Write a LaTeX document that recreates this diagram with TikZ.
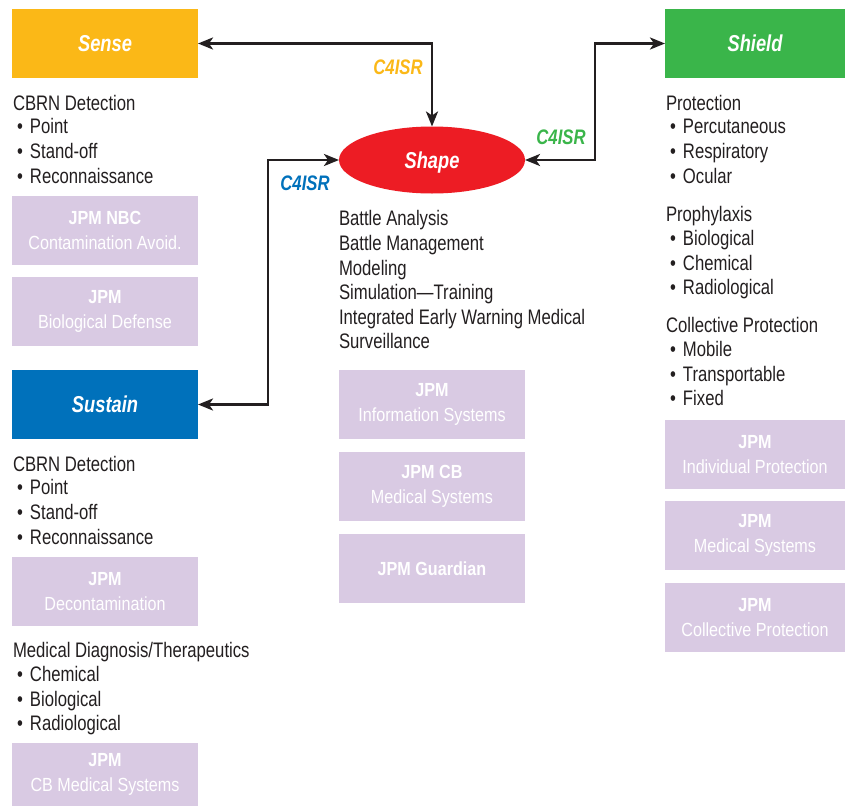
\documentclass[tikz,border=0pt]{standalone}
\usepackage{fontspec}
\setmainfont{Liberation Sans}[FakeStretch=0.795]
\newfontfamily\boxfont{Liberation Sans}[FakeStretch=0.85]
\usetikzlibrary{shapes.geometric,arrows.meta}
\definecolor{senseC}{HTML}{FBB817}
\definecolor{shieldC}{HTML}{3AB54A}
\definecolor{sustainC}{HTML}{0071BB}
\definecolor{shapeC}{HTML}{ED1C24}
\definecolor{lavC}{HTML}{D9CAE3}
\definecolor{ink}{HTML}{231F20}
\newcommand{\bul}[1]{\makebox[13pt][l]{\textbullet}#1}
\tikzset{
  txt/.style={anchor=base west, inner sep=0pt, outer sep=0pt, text=ink, font=\fontsize{21}{25}\selectfont},
  headbox/.style={anchor=north west, inner sep=0pt, outer sep=0pt, minimum width=186pt, minimum height=69pt, text height=16.5pt, text depth=0pt, text=white, font=\fontsize{23}{27}\selectfont\bfseries\itshape},
  lav/.style={anchor=north west, inner sep=0pt, outer sep=0pt, fill=lavC, minimum width=186pt, minimum height=69pt, text=white, align=center, font=\boxfont\fontsize{19}{24.5}\selectfont},
  conn/.style={line width=2.6pt, draw=ink, line join=miter, {Stealth[length=15pt,width=12pt,inset=4pt]}-{Stealth[length=15pt,width=12pt,inset=4pt]}},
  lbl/.style={inner sep=0pt, font=\fontsize{21}{25}\selectfont\bfseries\itshape}
}
\begin{document}
\begin{tikzpicture}[x=1pt,y=-1pt]
\useasboundingbox (0,0) rectangle (845,806);
\fill[white] (0,0) rectangle (845,806);
% head boxes
\node[headbox, fill=senseC] (sense) at (12,9) {Sense};
\node[headbox, fill=shieldC, minimum width=180pt] (shield) at (665,9) {Shield};
\node[headbox, fill=sustainC] (sustain) at (12,370) {Sustain};
\node[ellipse, fill=shapeC, inner sep=0pt, outer sep=0pt, minimum width=186pt, minimum height=67pt, text height=16.5pt, text depth=0pt, text=white, font=\fontsize{23}{27}\selectfont\bfseries\itshape] (shape) at (432,160) {Shape};
% connectors
\coordinate (sh1) at (595,100);
\coordinate (su1) at (268,300);
\draw[conn] (shape.north) |- (sense.east);
\draw[conn] (shape.east) -| (sh1) |- (shield.west);
\draw[conn] (sustain.east) -| (su1) |- (shape.west);
\node[lbl, text=senseC] (l1) at (398,67) {C4ISR};
\node[lbl, text=shieldC] (l2) at (561,137) {C4ISR};
\node[lbl, text=sustainC] (l3) at (305,183) {C4ISR};
% Sense column
\node[txt] (a1) at (13,110) {CBRN Detection};
\node[txt] (a2) at (17,133) {\bul{Point}};
\node[txt] (a3) at (17,158) {\bul{Stand-off}};
\node[txt] (a4) at (17,183) {\bul{Reconnaissance}};
\node[lav] (ab1) at (12,196) {\textbf{JPM NBC}\\Contamination Avoid.};
\node[lav] (ab2) at (12,277) {\textbf{JPM}\\Biological Defense};
% Sustain column
\node[txt] (c1) at (13,471) {CBRN Detection};
\node[txt] (c2) at (17,494) {\bul{Point}};
\node[txt] (c3) at (17,519) {\bul{Stand-off}};
\node[txt] (c4) at (17,544) {\bul{Reconnaissance}};
\node[lav] (cb1) at (12,557) {\textbf{JPM}\\Decontamination};
\node[txt] (c5) at (13,657.5) {Medical Diagnosis/Therapeutics};
\node[txt] (c6) at (17,681.5) {\bul{Chemical}};
\node[txt] (c7) at (17,706.5) {\bul{Biological}};
\node[txt] (c8) at (17,730.5) {\bul{Radiological}};
\node[lav, minimum height=63pt] (cb2) at (12,743) {\textbf{JPM}\\CB Medical Systems};
% Shape column
\node[txt] (s1) at (339,225.5) {Battle Analysis};
\node[txt] (s2) at (339,250.5) {Battle Management};
\node[txt] (s3) at (339,275.5) {Modeling};
\node[txt] (s4) at (339,299.5) {Simulation\textemdash Training};
\node[txt] (s5) at (339,324.5) {Integrated Early Warning Medical};
\node[txt] (s6) at (339,348.5) {Surveillance};
\node[lav] (sb1) at (339,370) {\textbf{JPM}\\Information Systems};
\node[lav] (sb2) at (339,452) {\textbf{JPM CB}\\Medical Systems};
\node[lav] (sb3) at (339,534) {\textbf{JPM Guardian}};
% Shield column
\node[txt] (d1) at (666,110) {Protection};
\node[txt] (d2) at (670,133) {\bul{Percutaneous}};
\node[txt] (d3) at (670,158) {\bul{Respiratory}};
\node[txt] (d4) at (670,183) {\bul{Ocular}};
\node[txt] (d5) at (666,221.5) {Prophylaxis};
\node[txt] (d6) at (670,245.5) {\bul{Biological}};
\node[txt] (d7) at (670,270.5) {\bul{Chemical}};
\node[txt] (d8) at (670,294.5) {\bul{Radiological}};
\node[txt] (d9) at (666,332.5) {Collective Protection};
\node[txt] (d10) at (670,356.5) {\bul{Mobile}};
\node[txt] (d11) at (670,381.5) {\bul{Transportable}};
\node[txt] (d12) at (670,405.5) {\bul{Fixed}};
\node[lav, minimum width=180pt] (db1) at (665,420) {\textbf{JPM}\\Individual Protection};
\node[lav, minimum width=180pt] (db2) at (665,501) {\textbf{JPM}\\Medical Systems};
\node[lav, minimum width=180pt] (db3) at (665,583) {\textbf{JPM}\\Collective Protection};
\end{tikzpicture}
\end{document}
